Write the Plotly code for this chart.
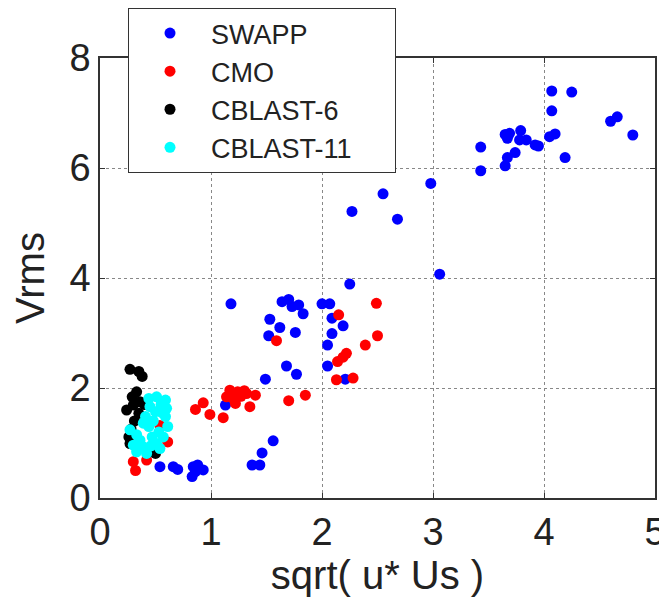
import plotly.graph_objects as go

# ---- data ----
swapp_x = [4.07, 4.25, 4.07, 4.60, 4.66, 4.80, 3.43, 3.43, 3.65, 3.69, 3.79, 3.67, 3.78, 3.84,
           3.92, 3.95, 3.74, 3.67, 3.65, 4.05, 4.10, 4.19, 2.98, 2.55, 2.27, 2.68, 3.06, 2.25,
           1.18, 1.64, 1.70, 1.73, 1.79, 1.83, 2.00, 2.07, 1.53, 1.62, 1.52, 1.76, 2.09, 2.19,
           2.09, 2.05, 2.05, 1.68, 1.77, 1.49, 2.21, 1.13, 1.56, 1.46, 1.37, 1.44,
           0.54, 0.66, 0.70, 0.84, 0.88, 0.93, 0.83, 0.86]
swapp_y = [7.40, 7.38, 7.04, 6.85, 6.93, 6.60, 6.38, 5.95, 6.61, 6.63, 6.68, 6.54, 6.51, 6.51,
           6.42, 6.40, 6.28, 6.19, 6.04, 6.57, 6.62, 6.19, 5.72, 5.53, 5.21, 5.07, 4.07, 3.89,
           3.53, 3.57, 3.61, 3.48, 3.51, 3.35, 3.53, 3.53, 3.25, 3.10, 2.95, 3.01, 3.27, 3.13,
           2.99, 2.78, 2.40, 2.40, 2.25, 2.16, 2.16, 1.69, 1.04, 0.82, 0.60, 0.60,
           0.57, 0.57, 0.52, 0.57, 0.60, 0.51, 0.39, 0.48]

cmo_x = [2.49, 2.15, 1.59, 2.50, 2.39, 2.22, 2.19, 2.14, 2.13, 2.28, 1.70, 1.85,
         1.17, 1.24, 1.32, 1.40, 1.20, 1.14, 1.22, 1.35, 1.27, 1.30, 0.93, 0.86, 0.99, 1.11,
         0.61, 0.54, 0.32, 0.30, 0.42]
cmo_y = [3.54, 3.33, 2.86, 2.95, 2.78, 2.63, 2.56, 2.48, 2.15, 2.18, 1.77, 1.87,
         1.96, 1.93, 1.90, 1.87, 1.81, 1.84, 1.72, 1.66, 1.85, 1.95, 1.73, 1.61, 1.52, 1.46,
         1.02, 1.32, 0.50, 0.66, 0.69]

cb6_x = [0.27, 0.35, 0.38, 0.33, 0.29, 0.30, 0.24, 0.35, 0.26, 0.27, 0.47, 0.50,
         0.31, 0.28, 0.36, 0.40]
cb6_y = [2.34, 2.30, 2.21, 1.93, 1.84, 1.69, 1.60, 1.54, 1.11, 0.99, 0.84, 0.81,
         1.40, 1.25, 1.75, 1.70]

cb11_x = [0.44, 0.51, 0.59, 0.60, 0.50, 0.41, 0.59, 0.44, 0.61, 0.27, 0.33, 0.47, 0.57,
          0.30, 0.39, 0.51, 0.33, 0.42, 0.54, 0.45, 0.39, 0.55, 0.48, 0.53, 0.36, 0.46, 0.56]
cb11_y = [1.81, 1.84, 1.78, 1.63, 1.57, 1.48, 1.48, 1.30, 1.30, 1.24, 1.15, 1.11, 1.11,
          0.96, 0.93, 0.99, 0.84, 0.81, 0.90, 1.66, 1.36, 1.70, 1.40, 1.20, 1.05, 0.95, 1.55]

x_ticks = [0, 1, 2, 3, 4, 5]
y_ticks = [0, 2, 4, 6, 8]

PAD = "\u00a0" * 5  # invisible right padding inside the legend box
series = [
    ("SWAPP", swapp_x, swapp_y, "#0000FF"),
    ("CMO", cmo_x, cmo_y, "#FF0000"),
    ("CBLAST-6", cb6_x, cb6_y, "#000000"),
    ("CBLAST-11" + PAD, cb11_x, cb11_y, "#00FFFF"),
]

fig = go.Figure()
for name, xs, ys, col in series:
    fig.add_trace(go.Scatter(x=xs, y=ys, mode="markers", name=name,
                             marker=dict(color=col, size=11, line=dict(width=0))))

FONT = "Liberation Sans, Arial, sans-serif"
axis_common = dict(
    showline=True, linecolor="#333333", linewidth=1.5, mirror="ticks",
    ticks="inside", ticklen=5, tickcolor="#333333", tickwidth=1,
    showgrid=True, gridcolor="#888888", griddash="dot", gridwidth=1,
    zeroline=False, automargin=True, ticklabeloverflow="allow",
    tickfont=dict(family=FONT, size=38, color="#222222"),
)

# page body has an 8px margin, so the figure is sized to the remaining window
W, H = 659, 591
ML, MR, MT, MB = 92, 12, 50, 101
PW, PH = W - ML - MR, H - MT - MB
fig.update_layout(
    width=W, height=H,
    margin=dict(l=ML, r=MR, t=MT, b=MB, autoexpand=False),
    paper_bgcolor="white", plot_bgcolor="white",
    font=dict(family=FONT, color="#222222"),
    showlegend=True,
    legend=dict(x=(120 - ML) / PW, y=(PH + MT) / PH, xanchor="left", yanchor="top",
                bgcolor="white", bordercolor="#333333", borderwidth=1,
                font=dict(family=FONT, size=27, color="#222222"),
                itemwidth=72, tracegroupgap=0),
    xaxis=dict(range=[0, 5], tickvals=x_ticks,
               title=dict(text="sqrt( u* Us )", font=dict(family=FONT, size=40), standoff=4),
               **axis_common),
    yaxis=dict(range=[0, 8], tickvals=y_ticks,
               title=dict(text="Vrms", font=dict(family=FONT, size=40), standoff=27),
               **axis_common),
)

fig.write_html("out.html")
